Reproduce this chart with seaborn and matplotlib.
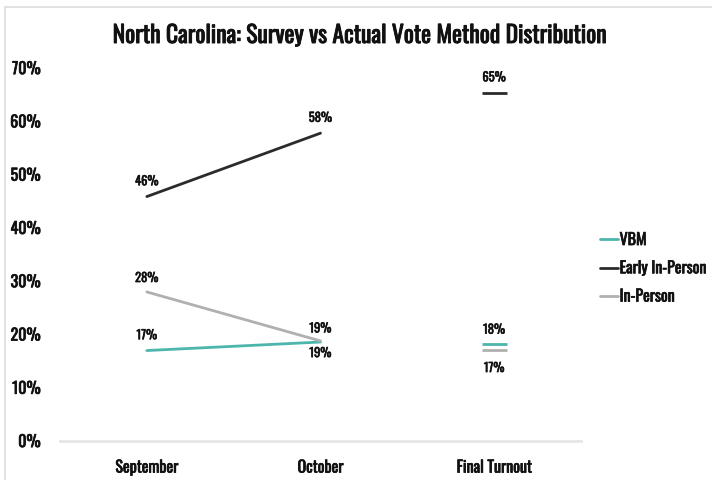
import matplotlib
matplotlib.use("Agg")
import matplotlib.pyplot as plt
import matplotlib.patheffects as pe
from matplotlib.lines import Line2D
import seaborn as sns
import pandas as pd

# Vote-method shares (%) by stage
stages = ["September", "October", "Final Turnout"]
methods = ["VBM", "Early In-Person", "In-Person"]
vbm = [17.0, 18.6, 18.3]
early_in_person = [45.9, 57.8, 65.4]
in_person = [28.0, 18.8, 17.1]
colors = ["#4db6ac", "#2b2b2b", "#b0b0b0"]
y_ticks = [0, 10, 20, 30, 40, 50, 60, 70]

sns.set_theme(style="white")
plt.rcParams["font.family"] = ["Oswald", "Roboto Condensed", "DejaVu Sans"]
TEXT = "#111111"


def heavy(width=0.5, color=TEXT):
    # thicken the glyphs with a stroke of the same colour
    return [pe.withStroke(linewidth=width, foreground=color)]


rows = []
for m, vals in zip(methods, [vbm, early_in_person, in_person]):
    for i, (s, v) in enumerate(zip(stages, vals)):
        rows.append({"method": m, "stage": s, "pos": i, "share": v})
df = pd.DataFrame(rows)
survey = df[df["pos"] < 2]
final = df[df["pos"] == 2]

fig = plt.figure(figsize=(7.12, 4.8), dpi=100)
ax = fig.add_axes([0.0843, 0.081, 0.7317, 0.777])

palette = dict(zip(methods, colors))
sns.lineplot(data=survey, x="pos", y="share", hue="method", hue_order=methods,
             palette=palette, linewidth=2, ax=ax, legend=False)
for m in methods:
    sub = final[final["method"] == m]
    ax.plot(sub["pos"], sub["share"], marker="_", markersize=18,
            markeredgewidth=2, linestyle="none", color=palette[m])

# value labels: above or below each point
offsets = {
    ("VBM", 0): 11, ("VBM", 1): -8, ("VBM", 2): 10,
    ("Early In-Person", 0): 11, ("Early In-Person", 1): 11, ("Early In-Person", 2): 11,
    ("In-Person", 0): 10, ("In-Person", 1): 9, ("In-Person", 2): -13,
}
for _, r in df.iterrows():
    ax.annotate(f"{r['share']:.0f}%", (r["pos"], r["share"]),
                xytext=(0, offsets[(r["method"], r["pos"])]),
                textcoords="offset points", ha="center", va="center",
                fontsize=9, color=TEXT, path_effects=heavy(0.4))

ax.set_xlim(-0.5, 2.5)
ax.set_ylim(0, 70)
ax.set_yticks(y_ticks)
ax.set_yticklabels([f"{t}%" for t in y_ticks])
ax.set_xticks(range(len(stages)))
ax.set_xticklabels(stages)
ax.tick_params(axis="y", length=0, pad=14, labelsize=11.5, labelcolor=TEXT)
ax.tick_params(axis="x", length=0, pad=14, labelsize=11.5, labelcolor=TEXT)
for lab in ax.get_xticklabels() + ax.get_yticklabels():
    lab.set_path_effects(heavy(0.5))
ax.set_xlabel("")
ax.set_ylabel("")
for side in ["top", "right", "left"]:
    ax.spines[side].set_visible(False)
ax.spines["bottom"].set_color("#e6e6e6")
ax.spines["bottom"].set_linewidth(2)

handles = [Line2D([0], [0], color=c, lw=2) for c in colors]
leg = fig.legend(handles, methods, loc="center left",
                 bbox_to_anchor=(0.822, 0.44), frameon=False,
                 fontsize=11.5, handlelength=1.15, handletextpad=0.1,
                 labelspacing=0.83)
for t in leg.get_texts():
    t.set_color(TEXT)
    t.set_path_effects(heavy(0.5))

title = fig.suptitle("North Carolina: Survey vs Actual Vote Method Distribution",
                     x=0.505, y=0.95, fontsize=17, color=TEXT)
title.set_path_effects(heavy(0.65))

# light frame along the top and left edges
fig.add_artist(Line2D([0.007, 0.007], [0, 0.985], transform=fig.transFigure,
                      color="#dddddd", lw=1.2))
fig.add_artist(Line2D([0.007, 1.0], [0.985, 0.985], transform=fig.transFigure,
                      color="#dddddd", lw=1.2))

fig.savefig("out.png", dpi=100, facecolor="white")
